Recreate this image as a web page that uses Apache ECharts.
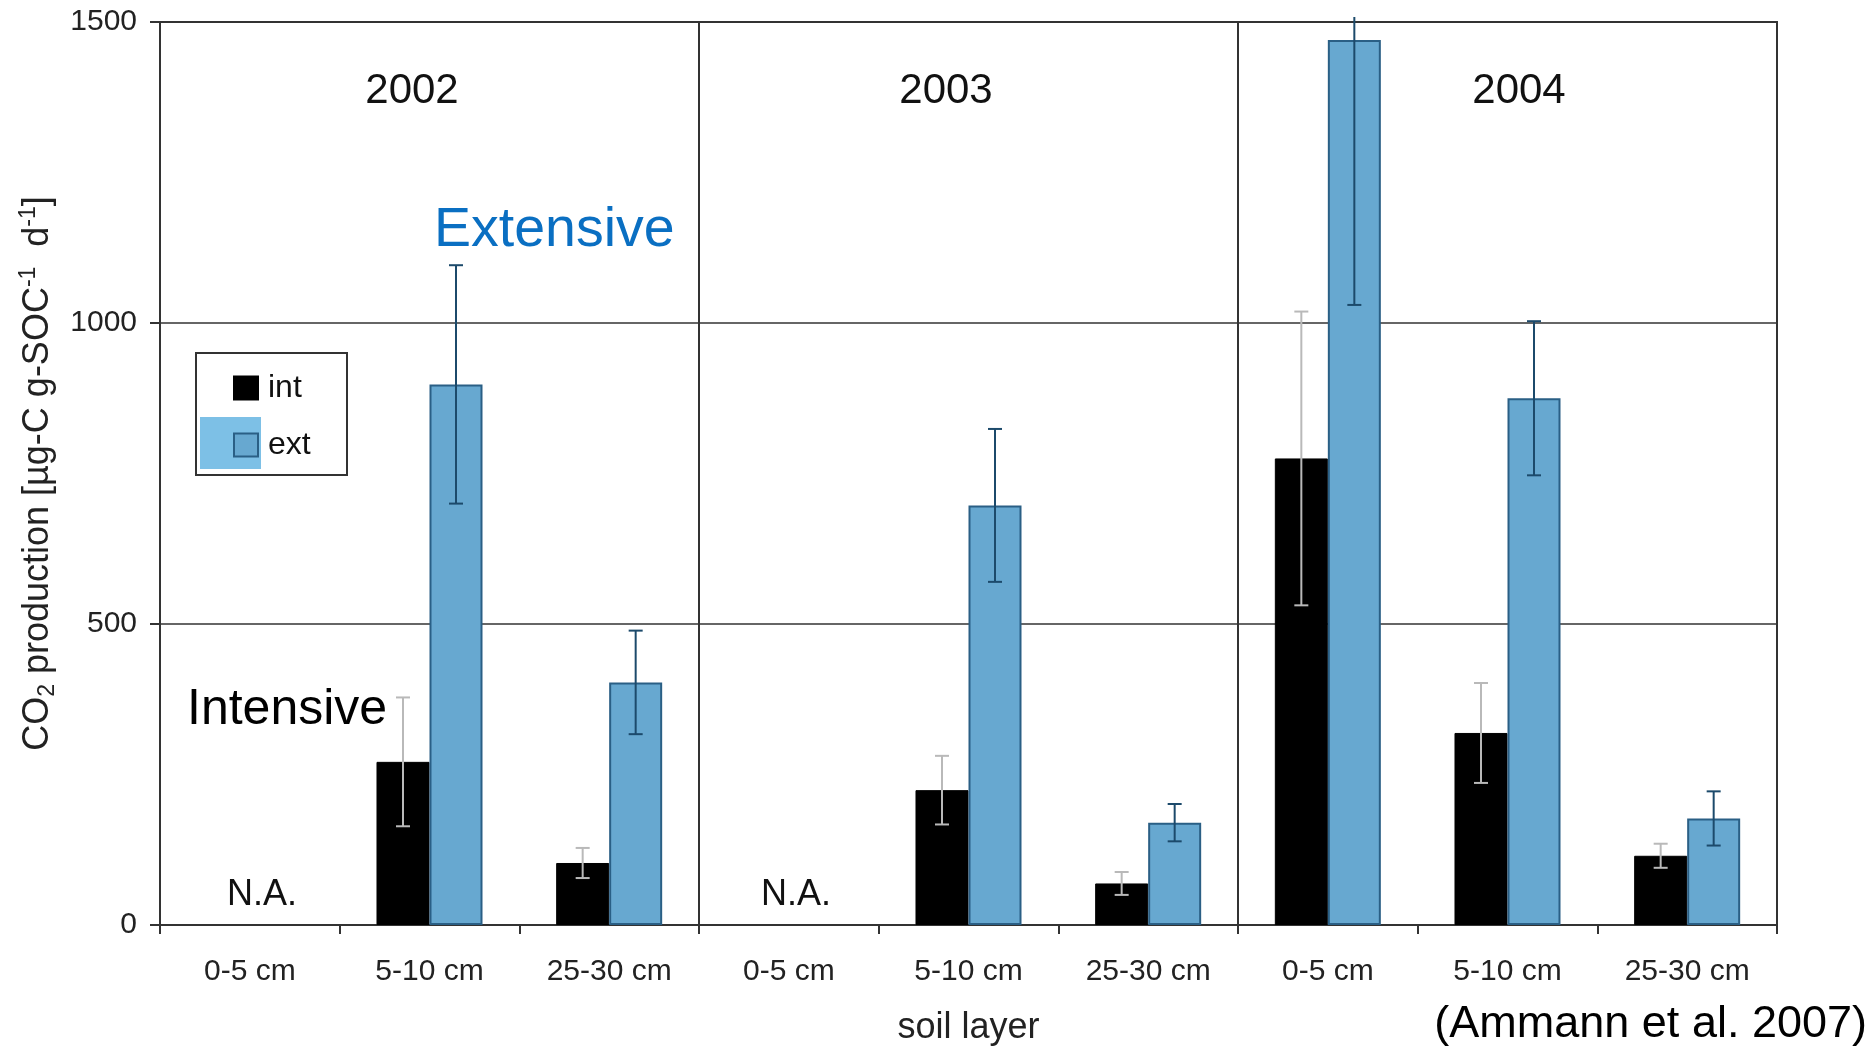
<!DOCTYPE html>
<html>
<head>
<meta charset="utf-8">
<title>CO2 production by soil layer</title>
<script src="https://cdn.jsdelivr.net/npm/echarts@6/dist/echarts.min.js"></script>
<style>
  html, body { margin: 0; padding: 0; background: #ffffff; }
  #chart { width: 1872px; height: 1047px; }
</style>
</head>
<body>
<div id="chart"></div>
<script>
// Soil layers, three per year (2002, 2003, 2004)
const categories = ['0-5 cm', '5-10 cm', '25-30 cm', '0-5 cm', '5-10 cm', '25-30 cm', '0-5 cm', '5-10 cm', '25-30 cm'];
const years = ['2002', '2003', '2004'];

// Mean CO2 production and error (µg-C g-SOC^-1 d^-1); null = not available
const intValues = [null, 271, 103, null, 224, 69, 775, 319, 115];
const intErrors = [null, 107, 25, null, 57, 19, 244, 83, 20];
const extValues = [null, 898, 403, null, 697, 170, 1470, 875, 177];
const extErrors = [null, 198, 86, null, 127, 31, 440, 128, 45];

const yTicks = { min: 0, max: 1500, interval: 500 };

const FONT = '"Liberation Sans", Arial, Helvetica, sans-serif';
const CAT_GAP = 0.41;          // share of each band left empty between bar pairs
const EXT_FILL = '#67a8d0';
const EXT_BORDER = '#2a5f85';

const chart = echarts.init(document.getElementById('chart'), null, { renderer: 'canvas' });

function errorData(values, errors) {
  const out = [];
  values.forEach((v, i) => {
    if (v !== null) out.push([i, v, errors[i]]);
  });
  return out;
}

// Error bar drawn at the centre of the int (side = -1) or ext (side = +1) bar
function errorBar(side, color, lineWidth) {
  return function (params, api) {
    const idx = api.value(0);
    const v = api.value(1);
    const e = api.value(2);
    const band = api.size([1, 0])[0];
    const barW = band * (1 - CAT_GAP) / 2;
    const x = api.coord([idx, v])[0] + side * barW / 2;
    const topLimit = params.coordSys.y - 5;
    const yHiRaw = api.coord([idx, v + e])[1];
    const clipped = yHiRaw < topLimit;
    const yHi = clipped ? topLimit : yHiRaw;
    const yLo = api.coord([idx, v - e])[1];
    const cap = 7;
    const style = { stroke: color, lineWidth: lineWidth };
    const children = [
      { type: 'line', shape: { x1: x, y1: yHi, x2: x, y2: yLo }, style: style },
      { type: 'line', shape: { x1: x - cap, y1: yLo, x2: x + cap, y2: yLo }, style: style }
    ];
    if (!clipped) {
      children.push({ type: 'line', shape: { x1: x - cap, y1: yHi, x2: x + cap, y2: yHi }, style: style });
    }
    return { type: 'group', children: children };
  };
}

const option = {
  backgroundColor: '#ffffff',
  animation: false,
  textStyle: { fontFamily: FONT },
  grid: {
    left: 160, right: 95, top: 22, bottom: 122,
    outerBoundsMode: 'none',
    containLabel: false,
    show: true, borderColor: '#333333', borderWidth: 2, backgroundColor: 'transparent'
  },
  legend: {
    orient: 'vertical',
    left: 233, top: 372,
    padding: 0,
    itemWidth: 24, itemHeight: 23, itemGap: 25,
    icon: 'rect',
    data: ['int', 'ext'],
    textStyle: { fontFamily: FONT, fontSize: 32, color: '#111111', lineHeight: 23, padding: [0, 0, 0, 5] }
  },
  xAxis: {
    type: 'category',
    data: categories,
    boundaryGap: true,
    name: 'soil layer',
    nameLocation: 'middle',
    nameGap: 85,
    nameTextStyle: { fontFamily: FONT, fontSize: 36, color: '#222222' },
    axisLine: { show: true, lineStyle: { color: '#333333', width: 2 } },
    axisTick: { show: true, inside: false, length: 9, lineStyle: { color: '#333333', width: 2 } },
    axisLabel: { fontFamily: FONT, fontSize: 30, color: '#222222', margin: 32, interval: 0 },
    // year separators between the three groups of soil layers
    splitLine: {
      show: true,
      interval: function (index) { return index === 3 || index === 6; },
      lineStyle: { color: '#333333', width: 2 }
    }
  },
  yAxis: {
    type: 'value',
    min: yTicks.min, max: yTicks.max, interval: yTicks.interval,
    name: '{n|CO}{sub|2}{n| production [µg-C g-SOC}{sup|-1}{n|  d}{sup|-1}{n|]}',
    nameLocation: 'middle',
    nameRotate: 90,
    nameGap: 97,
    nameTextStyle: {
      fontFamily: FONT, color: '#222222',
      rich: {
        n: { fontFamily: FONT, fontSize: 36, color: '#222222', lineHeight: 42, verticalAlign: 'middle' },
        sub: { fontFamily: FONT, fontSize: 23, color: '#222222', lineHeight: 42, verticalAlign: 'bottom' },
        sup: { fontFamily: FONT, fontSize: 23, color: '#222222', lineHeight: 42, verticalAlign: 'top' }
      }
    },
    axisLine: { show: true, lineStyle: { color: '#333333', width: 2 } },
    axisTick: { show: true, inside: false, length: 10, lineStyle: { color: '#333333', width: 2 } },
    axisLabel: {
      fontFamily: FONT, fontSize: 30, color: '#222222', margin: 23,
      formatter: function (v) { return String(v); }
    },
    splitLine: { show: true, lineStyle: { color: '#333333', width: 1.5 } }
  },
  series: [
    {
      name: 'int',
      type: 'bar',
      data: intValues,
      barGap: '0%',
      barCategoryGap: (CAT_GAP * 100) + '%',
      itemStyle: { color: '#000000', borderColor: '#000000', borderWidth: 1 },
      z: 2
    },
    {
      name: 'ext',
      type: 'bar',
      data: extValues,
      barGap: '0%',
      barCategoryGap: (CAT_GAP * 100) + '%',
      itemStyle: { color: EXT_FILL, borderColor: EXT_BORDER, borderWidth: 2 },
      z: 2
    },
    {
      name: 'int error',
      type: 'custom',
      data: errorData(intValues, intErrors),
      renderItem: errorBar(-1, '#b9b9b9', 2),
      encode: { x: 0, y: 1 },
      clip: false,
      z: 5
    },
    {
      name: 'ext error',
      type: 'custom',
      data: errorData(extValues, extErrors),
      renderItem: errorBar(1, '#1c4a6b', 2),
      encode: { x: 0, y: 1 },
      clip: false,
      z: 5
    }
  ],
  graphic: [
    // legend frame and highlight behind the ext key
    {
      type: 'rect', left: 195, top: 352, z: 1,
      shape: { width: 151, height: 122 },
      style: { fill: '#ffffff', stroke: '#333333', lineWidth: 2 }
    },
    {
      type: 'rect', left: 200, top: 417, z: 2,
      shape: { width: 61, height: 52 },
      style: { fill: '#7dc0e6' }
    },
    // year headings
    { type: 'text', x: 412, y: 91, z: 10,
      style: { text: years[0], fontFamily: FONT, fontSize: 42, fill: '#111111', align: 'center', verticalAlign: 'middle' } },
    { type: 'text', x: 946, y: 91, z: 10,
      style: { text: years[1], fontFamily: FONT, fontSize: 42, fill: '#111111', align: 'center', verticalAlign: 'middle' } },
    { type: 'text', x: 1519, y: 91, z: 10,
      style: { text: years[2], fontFamily: FONT, fontSize: 42, fill: '#111111', align: 'center', verticalAlign: 'middle' } },
    // treatment annotations
    { type: 'text', x: 434, y: 231, z: 10,
      style: { text: 'Extensive', fontFamily: FONT, fontSize: 55.5, fill: '#0a6fc2', align: 'left', verticalAlign: 'middle' } },
    { type: 'text', x: 187, y: 710, z: 10,
      style: { text: 'Intensive', fontFamily: FONT, fontSize: 50, fill: '#000000', align: 'left', verticalAlign: 'middle' } },
    // missing data markers
    { type: 'text', x: 262, y: 895, z: 10,
      style: { text: 'N.A.', fontFamily: FONT, fontSize: 36, fill: '#111111', align: 'center', verticalAlign: 'middle' } },
    { type: 'text', x: 796, y: 895, z: 10,
      style: { text: 'N.A.', fontFamily: FONT, fontSize: 36, fill: '#111111', align: 'center', verticalAlign: 'middle' } },
    // source
    { type: 'text', x: 1867, y: 1025, z: 10,
      style: { text: '(Ammann et al. 2007)', fontFamily: FONT, fontSize: 45, fill: '#000000', align: 'right', verticalAlign: 'middle' } }
  ]
};

chart.setOption(option);
</script>
</body>
</html>
